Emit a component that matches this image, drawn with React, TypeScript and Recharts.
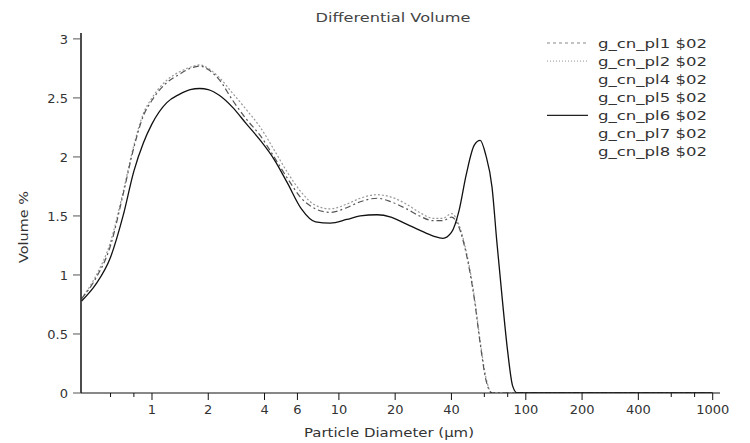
import React from 'react';
import { LineChart, Line, XAxis, YAxis, Legend } from 'recharts';

const DIAMETERS = [0.42, 0.5, 0.6, 0.7, 0.8, 0.9, 1, 1.2, 1.4, 1.6, 1.8, 2, 2.3, 2.7, 3.2, 3.8, 4.5, 5.3, 6.3, 7.5, 9, 11, 13, 16, 19, 23, 27, 32, 36, 40, 44, 48, 53, 57, 61, 66, 70, 75, 80, 85, 90, 100, 200, 500, 1000];

const PL1 = [0.8, 0.97, 1.25, 1.68, 2.08, 2.35, 2.48, 2.63, 2.7, 2.75, 2.77, 2.74, 2.65, 2.48, 2.32, 2.18, 2.0, 1.82, 1.65, 1.56, 1.53, 1.57, 1.62, 1.65, 1.62, 1.56, 1.5, 1.46, 1.46, 1.49, 1.4, 1.18, 0.8, 0.42, 0.12, 0, 0, 0, 0, 0, 0, 0, 0, 0, 0];
const PL2 = [0.8, 0.99, 1.28, 1.7, 2.1, 2.37, 2.5, 2.65, 2.72, 2.76, 2.78, 2.75, 2.67, 2.54, 2.4, 2.25, 2.06, 1.87, 1.7, 1.59, 1.56, 1.6, 1.65, 1.68, 1.66, 1.6, 1.53, 1.48, 1.48, 1.52, 1.42, 1.2, 0.82, 0.44, 0.14, 0, 0, 0, 0, 0, 0, 0, 0, 0, 0];
const PL6 = [0.78, 0.92, 1.15, 1.5, 1.88, 2.12, 2.28, 2.46, 2.53, 2.57, 2.58, 2.57, 2.52, 2.42, 2.28, 2.14, 1.98, 1.78, 1.56, 1.45, 1.44, 1.47, 1.5, 1.51, 1.49, 1.43, 1.38, 1.33, 1.31, 1.36, 1.55, 1.85, 2.1, 2.14, 2.02, 1.74, 1.28, 0.78, 0.35, 0.06, 0, 0, 0, 0, 0];

const X_MAJOR = [1, 2, 4, 6, 10, 20, 40, 100, 200, 400, 1000];
const X_MINOR = [0.6, 0.8, 60, 80, 600, 800];
const Y_TICKS = [0, 0.5, 1, 1.5, 2, 2.5, 3];

const LEGEND_NAMES = ['g_cn_pl1 $02', 'g_cn_pl2 $02', 'g_cn_pl4 $02', 'g_cn_pl5 $02', 'g_cn_pl6 $02', 'g_cn_pl7 $02', 'g_cn_pl8 $02'];

const FONT = '"DejaVu Sans", sans-serif';
const TEXT = '#333';

const LEGEND_STYLES: ({ stroke: string; dash?: string } | null)[] = [
  { stroke: '#888', dash: '3 3' },
  { stroke: '#aaa', dash: '1 2' },
  null,
  null,
  { stroke: '#222' },
  null,
  null,
];

const data = DIAMETERS.map((d, i) => ({ d, pl1: PL1[i], pl2: PL2[i], pl6: PL6[i] }));

const XTick = (props: any) => {
  const { x, y, payload } = props;
  const major = X_MAJOR.includes(payload.value);
  const axisY = y - 9;
  return (
    <g>
      <line x1={x} x2={x} y1={axisY} y2={axisY + (major ? 7 : 4)} stroke="#111" />
      {major && (
        <text x={x} y={axisY + 21} textAnchor="middle" fontFamily={FONT} fontSize={13} fill={TEXT}>
          {payload.value}
        </text>
      )}
    </g>
  );
};

const LegendBox = () => (
  <svg width={200} height={135}>
    {LEGEND_NAMES.map((n, i) => {
      const y = 12 + i * 18.1;
      const s = LEGEND_STYLES[i];
      return (
        <g key={n}>
          {s && <line x1={7} x2={48} y1={y} y2={y} stroke={s.stroke} strokeDasharray={s.dash} strokeWidth={1.2} />}
          <text x={58} y={y + 4.5} textLength={109} lengthAdjust="spacingAndGlyphs" fontFamily={FONT} fontSize={13} fill={TEXT}>
            {n}
          </text>
        </g>
      );
    })}
  </svg>
);

export default function App() {
  return (
    <div style={{ position: 'absolute', left: 0, top: 0, background: '#fff' }}>
      <LineChart width={750} height={443} data={data} margin={{ top: 33, right: 30, bottom: 0, left: 0 }}>
        <XAxis
          dataKey="d"
          type="number"
          scale="log"
          domain={[0.417, 1094]}
          allowDataOverflow
          ticks={[...X_MAJOR, ...X_MINOR]}
          interval={0}
          height={50}
          tickSize={7}
          tickMargin={2}
          tickLine={false}
          tick={<XTick />}
          axisLine={{ stroke: '#111' }}
        />
        <XAxis
          xAxisId="top"
          orientation="top"
          dataKey="d"
          type="number"
          scale="log"
          domain={[0.417, 1094]}
          allowDataOverflow
          height={0}
          tick={false}
          tickLine={false}
          axisLine={{ stroke: '#999', strokeDasharray: '14 3 4 3' }}
        />
        <YAxis
          type="number"
          domain={[0, 3.05]}
          ticks={Y_TICKS}
          allowDataOverflow
          width={81}
          tickSize={8}
          tickMargin={5}
          tickLine={{ stroke: '#555' }}
          axisLine={{ stroke: '#111', strokeWidth: 1.5 }}
          tick={{ fill: TEXT, fontSize: 13, fontFamily: FONT }}
        />
        <YAxis
          yAxisId="right"
          orientation="right"
          type="number"
          domain={[0, 3.05]}
          width={0}
          tick={false}
          tickLine={false}
          axisLine={{ stroke: '#111' }}
        />
        <Legend
          layout="vertical"
          align="center"
          verticalAlign="middle"
          content={<LegendBox />}
          wrapperStyle={{ position: 'absolute', left: 540, top: 31, width: 200, height: 135 }}
        />
        <Line type="monotone" dataKey="pl2" stroke="#999" strokeWidth={1.2} strokeDasharray="2 2" dot={false} isAnimationActive={false} />
        <Line type="monotone" dataKey="pl1" stroke="#555" strokeWidth={1.2} strokeDasharray="6 3 2 3" dot={false} isAnimationActive={false} />
        <Line type="monotone" dataKey="pl6" stroke="#111" strokeWidth={1.3} dot={false} isAnimationActive={false} />
        <text x={393} y={22} textAnchor="middle" textLength={155} lengthAdjust="spacingAndGlyphs" fontFamily={FONT} fontSize={13} fill="#444">
          Differential Volume
        </text>
        <text x={389} y={437} textAnchor="middle" textLength={170} lengthAdjust="spacingAndGlyphs" fontFamily={FONT} fontSize={13} fill={TEXT}>
          Particle Diameter (µm)
        </text>
        <text
          x={23}
          y={227}
          textAnchor="middle"
          dominantBaseline="central"
          transform="rotate(-90 23 227)"
          textLength={72}
          lengthAdjust="spacingAndGlyphs"
          fontFamily={FONT}
          fontSize={13}
          fill={TEXT}
        >
          Volume %
        </text>
      </LineChart>
    </div>
  );
}
